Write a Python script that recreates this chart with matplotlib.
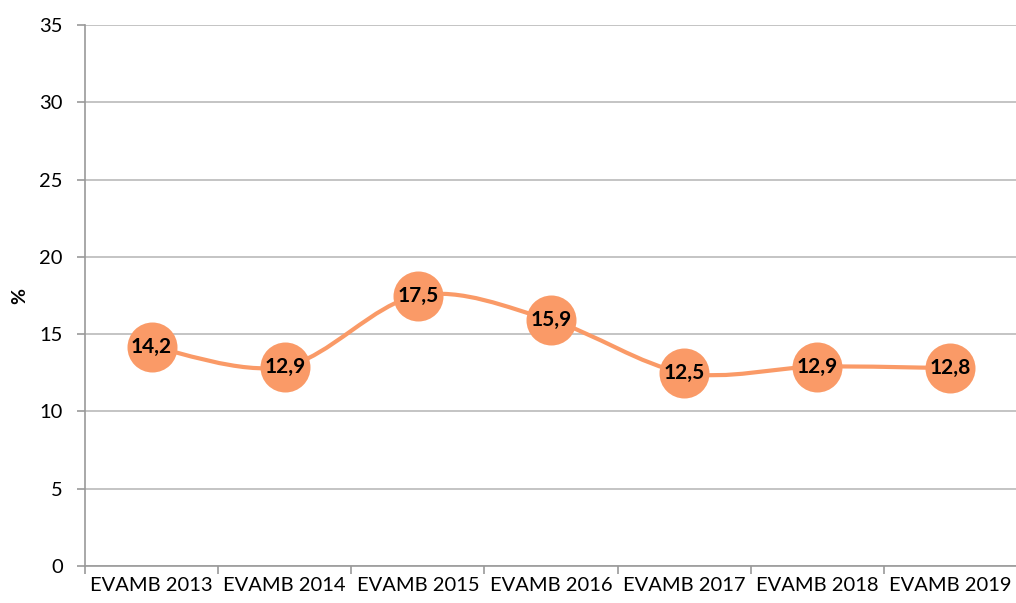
import numpy as np
import matplotlib
matplotlib.use("Agg")
from matplotlib import pyplot as plt
from matplotlib.path import Path
from matplotlib.patches import PathPatch

plt.rcParams['font.family'] = ['Lato', 'DejaVu Sans']

categorias = ["EVAMB 2013", "EVAMB 2014", "EVAMB 2015", "EVAMB 2016",
              "EVAMB 2017", "EVAMB 2018", "EVAMB 2019"]
valores = [14.2, 12.9, 17.5, 15.9, 12.5, 12.9, 12.8]
etiquetas = ["14,2", "12,9", "17,5", "15,9", "12,5", "12,9", "12,8"]
yticks = [0, 5, 10, 15, 20, 25, 30, 35]

naranja = "#FA9A67"
gris = "#BFBFBF"

fig = plt.figure(figsize=(10.16, 6.03), dpi=100)
ax = fig.add_axes([85/1016, 1-566/603, 932/1016, 541/603])

x = np.arange(len(valores))
y = np.array(valores)

# linea suavizada tipo Excel (bezier por tramos)
verts = [(x[0], y[0])]
codes = [Path.MOVETO]
n = len(x)
for i in range(n-1):
    p0 = np.array([x[max(i-1, 0)], y[max(i-1, 0)]])
    p1 = np.array([x[i], y[i]])
    p2 = np.array([x[i+1], y[i+1]])
    p3 = np.array([x[min(i+2, n-1)], y[min(i+2, n-1)]])
    c1 = p1 + (p2 - p0)/6
    c2 = p2 - (p3 - p1)/6
    verts += [tuple(c1), tuple(c2), tuple(p2)]
    codes += [Path.CURVE4]*3
ax.add_patch(PathPatch(Path(verts, codes), facecolor="none", edgecolor=naranja,
                       lw=3, zorder=3, capstyle="round"))

ax.plot(x, y, linestyle="none", marker="o", markersize=36, color=naranja,
        markeredgewidth=0, zorder=4)
for xi, yi, t in zip(x, y, etiquetas):
    ax.text(xi, yi, t, ha="center", va="center", fontsize=15, fontweight="bold",
            color="black", zorder=5)

ax.set_xlim(-0.5, n-0.5)
ax.set_ylim(0, 35)
ax.set_yticks(yticks)
ax.set_yticklabels([str(v) for v in yticks], fontsize=14.5)
ax.set_xticks(x)
ax.set_xticklabels(categorias, fontsize=14.5)
ax.set_xticks(np.arange(-0.5, n, 1), minor=True)
ax.tick_params(axis="x", which="major", length=0, pad=8)
ax.tick_params(axis="x", which="minor", length=6, color="#999999", width=1.2)
ax.tick_params(axis="y", length=6, color="#999999", width=1.2, pad=10)
ax.grid(axis="y", color=gris, lw=1.3)
ax.set_axisbelow(True)
for s in ["top", "right"]:
    ax.spines[s].set_visible(False)
for s in ["left", "bottom"]:
    ax.spines[s].set_color("#999999")
    ax.spines[s].set_linewidth(1.2)
fig.text(20/1016, 1-296/603, "%", rotation=90, ha="center", va="center",
         fontsize=14, fontweight="bold")

fig.savefig("out.png", dpi=100)
